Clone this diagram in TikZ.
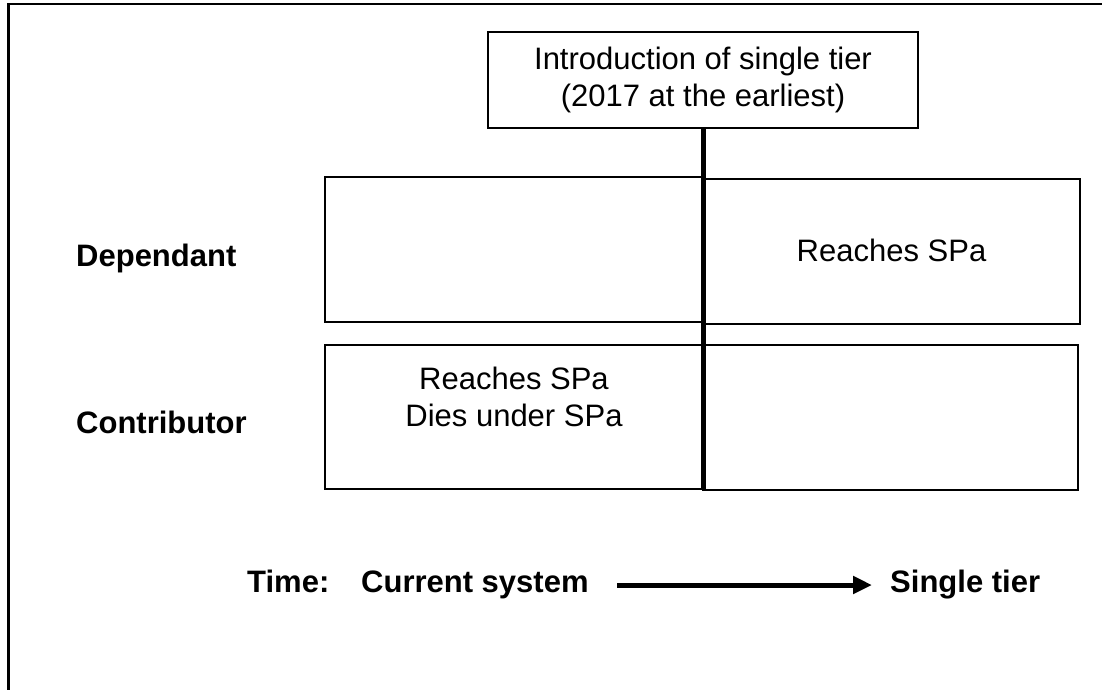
\documentclass[tikz,border=0pt]{standalone}
\usepackage{fontspec}
\setmainfont{Liberation Sans}
\usetikzlibrary{arrows.meta}

\tikzset{
  txt/.style={font=\fontsize{31}{37}\selectfont, inner sep=0pt},
  lbl/.style={font=\fontsize{31}{37}\selectfont\bfseries, inner sep=0pt, anchor=base west},
  cell/.style={draw, line width=2pt, minimum width=#1, inner sep=0pt}
}

\begin{document}
\begin{tikzpicture}[x=1pt,y=-1pt]
		\useasboundingbox (0,0) rectangle (1102,690);
		% frame, top and left only
		\draw[line width=2.5pt] (1102,4) -- (8.5,4) -- (8.5,690);

		% introduction box and divider
		\node[cell=430, txt, draw, line width=2pt, minimum height=96, align=center] (intro) at (703,80) {Introduction of single tier\\(2017 at the earliest)};
		\coordinate (divEnd) at (703,490);

		% rows
		\node[cell=378, minimum height=145] (depL) at (514,249.5) {};
		\node[cell=377, minimum height=145] (depR) at (891.5,251.5) {};
		\node[cell=378, minimum height=144] (conL) at (514,417) {};
		\node[cell=375, minimum height=145] (conR) at (890.5,417.5) {};

		\draw[line width=5pt] (intro.south) -- (divEnd);

		\node[txt, anchor=base] (reachD) at (depR.center |- 0,261) {Reaches SPa};
		\node[txt, anchor=north, align=center] (reachC) at (conL.center |- 0,367) {Reaches SPa\\Dies under SPa};

		\node[lbl] (dep) at (76,266) {Dependant};
		\node[lbl] (con) at (76,433) {Contributor};

		% time line
		\node[lbl] (time) at (247,592) {Time:};
		\node[lbl] (cur) at (361,592) {Current system};
		\node[lbl] (single) at (890,592) {Single tier};
		\coordinate (arrS) at (617,585);
		\coordinate (arrE) at (872,585);
		\draw[line width=5pt, -{Triangle[length=19pt,width=17pt]}] (arrS) -- (arrE);
	\end{tikzpicture}
\end{document}
